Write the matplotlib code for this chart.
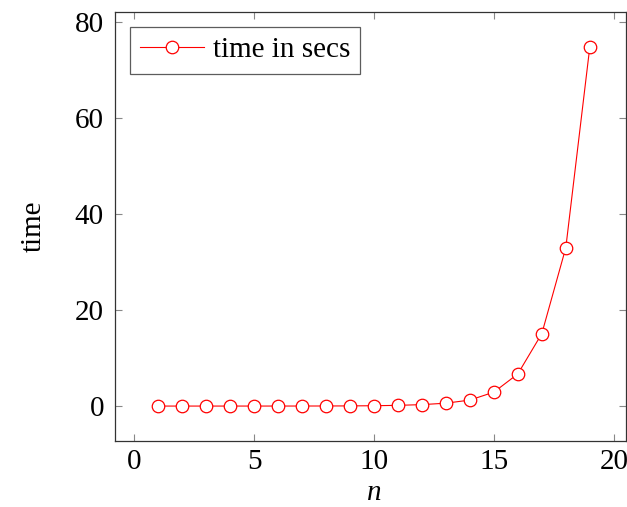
import matplotlib
matplotlib.use("Agg")
import matplotlib.pyplot as plt

# problem size and runtime
n = [1, 2, 3, 4, 5, 6, 7, 8, 9, 10, 11, 12, 13, 14, 15, 16, 17, 18, 19]
secs = [0.0001, 0.0002, 0.0004, 0.001, 0.002, 0.004, 0.008, 0.017, 0.035,
        0.07, 0.15, 0.3, 0.6, 1.25, 2.9, 6.7, 15.1, 33.0, 74.8]

plt.rcParams["font.family"] = ["Liberation Serif", "DejaVu Serif"]

fig = plt.figure(figsize=(6.27, 5.07), dpi=100)
ax = fig.add_axes([0.1834, 0.130, 0.8146, 0.846])

ax.plot(n, secs, color="red", linewidth=0.8, marker="o", markersize=9,
        markerfacecolor="white", markeredgecolor="red", markeredgewidth=0.9,
        label="time in secs")

ax.set_xlim(-0.8, 20.5)
ax.set_ylim(-7.3, 82.1)
ax.set_xticks([0, 5, 10, 15, 20])
ax.set_yticks([0, 20, 40, 60, 80])
ax.tick_params(direction="in", length=5, width=0.8, color="#888888",
               top=True, right=True, labelsize=21, pad=8)
ax.tick_params(axis="x", pad=6)
for s in ax.spines.values():
    s.set_color("#333333")
    s.set_linewidth(0.9)

ax.set_xlabel("n", fontsize=21, style="italic", va="baseline")
ax.xaxis.set_label_coords(0.507, -0.137)
ax.set_ylabel("time", fontsize=21, labelpad=20)

leg = ax.legend(loc="upper left", fontsize=21, frameon=True, fancybox=False,
                handlelength=2.2, handletextpad=0.3, borderpad=0.35,
                borderaxespad=0.5)
leg.get_frame().set_edgecolor("#333333")
leg.get_frame().set_linewidth(0.9)

fig.savefig("out.png", dpi=100)
